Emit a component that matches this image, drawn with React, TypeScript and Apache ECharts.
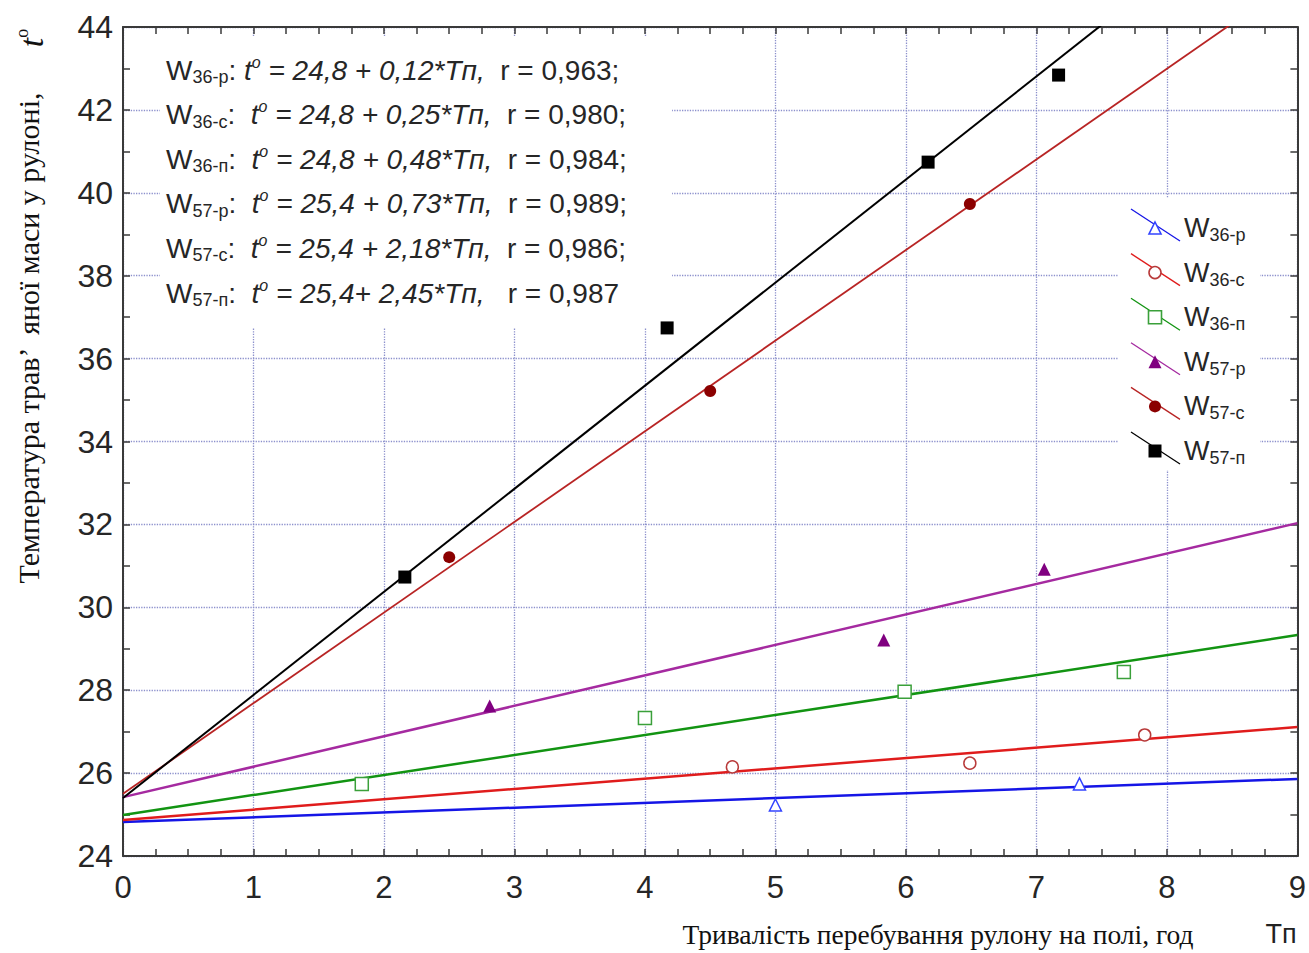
import React, { useEffect, useRef } from 'react';
import * as echarts from 'echarts';

// ---------- data ----------
const seriesSubs = ['36-р', '36-с', '36-п', '57-р', '57-с', '57-п'];

const pts36r = [[5.0, 25.23], [7.33, 25.74]];
const pts36c = [[4.67, 26.15], [6.49, 26.24], [7.83, 26.92]];
const pts36n = [[1.83, 25.74], [4.0, 27.33], [5.99, 27.96], [7.67, 28.44]];
const pts57r = [[2.81, 27.62], [5.83, 29.21], [7.06, 30.92]];
const pts57c = [[2.5, 31.21], [4.5, 35.22], [6.49, 39.73]];
const pts57n = [[2.16, 30.73], [4.17, 36.74], [6.17, 40.74], [7.17, 42.84]];

// fitted lines: values at fitX
const fitX = [0, 9];
const fit36r = [24.82, 25.86];
const fit36c = [24.87, 27.11];
const fit36n = [24.99, 29.33];
const fit57r = [25.42, 32.03];
const fit57c = [25.5, 45.18];
const fit57n = [25.4, 47.78];

const eqIntercepts = ['24,8', '24,8', '24,8', '25,4', '25,4', '25,4'];
const eqSlopes = ['0,12', '0,25', '0,48', '0,73', '2,18', '2,45'];
const eqR = ['0,963;', '0,980;', '0,984;', '0,989;', '0,986;', '0,987'];

const xMin = 0, xMax = 9, xStep = 1;
const yMin = 24, yMax = 44, yStep = 2;

// ---------- styles ----------
const styles = [
  { line: '#1515e6', lw: 2.5, symbol: 'triangle', size: 12, fill: '#ffffff', stroke: '#3344ff' },
  { line: '#e01c1c', lw: 2.5, symbol: 'circle', size: 12, fill: '#ffffff', stroke: '#b83a3a' },
  { line: '#129412', lw: 2.5, symbol: 'rect', size: 13, fill: '#ffffff', stroke: '#3aa03a' },
  { line: '#a52aa0', lw: 2.5, symbol: 'triangle', size: 13, fill: '#800080', stroke: '#800080' },
  { line: '#b82424', lw: 1.8, symbol: 'circle', size: 12, fill: '#8b0000', stroke: '#8b0000' },
  { line: '#000000', lw: 2, symbol: 'rect', size: 13, fill: '#000000', stroke: '#000000' },
];

const points = [pts36r, pts36c, pts36n, pts57r, pts57c, pts57n];
const fits = [fit36r, fit36c, fit36n, fit57r, fit57c, fit57n];

const TXT = '#262626';
const SANS = '"Liberation Sans", Arial, sans-serif';
const SERIF = '"Liberation Serif", "Times New Roman", serif';

function makeRich(fs: number, sub: number) {
  return {
    w: { fontSize: fs, fontFamily: SANS, fill: TXT, lineHeight: 32 },
    s: { fontSize: sub, fontFamily: SANS, fill: TXT, lineHeight: 8, verticalAlign: 'bottom' },
    c: { fontSize: fs, fontFamily: SANS, fill: TXT, lineHeight: 32 },
    i: { fontSize: fs, fontFamily: SANS, fontStyle: 'italic', fill: TXT, lineHeight: 32 },
    o: { fontSize: 16, fontFamily: SANS, fontStyle: 'italic', fill: TXT, lineHeight: 16, verticalAlign: 'top' },
    n: { fontSize: fs, fontFamily: SANS, fill: TXT, lineHeight: 32 },
  };
}

function buildOption() {
  const series: any[] = [];
  points.forEach((pts, i) => {
    const st = styles[i];
    series.push({
      name: 'W' + seriesSubs[i] + ' fit',
      type: 'line',
      data: fitX.map((x, j) => [x, fits[i][j]]),
      showSymbol: false,
      symbol: 'none',
      clip: true,
      silent: true,
      lineStyle: { color: st.line, width: st.lw },
      z: 2,
    });
    series.push({
      name: 'W' + seriesSubs[i],
      type: 'scatter',
      data: pts,
      symbol: st.symbol,
      symbolSize: st.size,
      itemStyle: { color: st.fill, borderColor: st.stroke, borderWidth: st.fill === '#ffffff' ? 1.5 : 0, opacity: 1 },
      z: 4,
    });
  });

  const axisLine = { show: true, onZero: false, lineStyle: { color: '#3a3a3a', width: 2 } };
  const tick = { show: true, inside: true, length: 7, lineStyle: { color: '#3a3a3a', width: 1.5 } };
  const split = { show: true, lineStyle: { type: 'dotted', color: '#8c90cc', width: 1.3 } };

  const eqRich = makeRich(28, 18);
  const legRich = makeRich(27, 18);

  const graphics: any[] = [];
  // equation box
  graphics.push({ type: 'rect', z: 1, shape: { x: 160, y: 36, width: 512, height: 292 }, style: { fill: '#ffffff' }, silent: true });
  // legend box
  graphics.push({ type: 'rect', z: 1, shape: { x: 1118, y: 198, width: 142, height: 272 }, style: { fill: '#ffffff' }, silent: true });

  seriesSubs.forEach((sub, i) => {
    const sep = i === 0 ? ': ' : ':  ';
    const plus = i === 5 ? '+ ' : ' + ';
    const rsp = i === 5 ? '   ' : '  ';
    const text = `{w|W}{s|${sub}}{c|${sep}}{i|t}{o|o}{i| = ${eqIntercepts[i]}${plus}${eqSlopes[i]}*Tп,}{n|${rsp}r = ${eqR[i]}}`;
    graphics.push({
      type: 'text', z: 10, x: 166, y: 70 + i * 44.6, silent: true,
      style: { text, rich: eqRich, align: 'left', verticalAlign: 'middle', textAlign: 'left', textVerticalAlign: 'middle' },
    });
  });

  // legend
  seriesSubs.forEach((sub, i) => {
    const st = styles[i];
    const cy = 228 + i * 44.6;
    const cx = 1155;
    graphics.push({ type: 'line', z: 10, silent: true, shape: { x1: 1131, y1: cy - 19, x2: 1180, y2: cy + 13 }, style: { stroke: st.line, lineWidth: 1.3 } });
    const mStyle = { fill: st.fill, stroke: st.stroke, lineWidth: st.fill === '#ffffff' ? 1.6 : 0 };
    const h = st.size;
    if (st.symbol === 'triangle') {
      graphics.push({ type: 'polygon', z: 11, silent: true, shape: { points: [[cx, cy - h / 2], [cx + h / 2, cy + h / 2], [cx - h / 2, cy + h / 2]] }, style: mStyle });
    } else if (st.symbol === 'circle') {
      graphics.push({ type: 'circle', z: 11, silent: true, shape: { cx, cy, r: h / 2 }, style: mStyle });
    } else {
      graphics.push({ type: 'rect', z: 11, silent: true, shape: { x: cx - h / 2, y: cy - h / 2, width: h, height: h }, style: mStyle });
    }
    graphics.push({
      type: 'text', z: 10, x: 1184, y: cy, silent: true,
      style: { text: `{w|W}{s|${sub}}`, rich: legRich, align: 'left', verticalAlign: 'middle', textAlign: 'left', textVerticalAlign: 'middle' },
    });
  });

  // y axis title
  graphics.push({
    type: 'text', z: 10, x: 28, y: 338, rotation: Math.PI / 2, silent: true,
    style: { text: 'Температура трав’  яної маси у рулоні,', font: `30px ${SERIF}`, fill: '#111', align: 'center', verticalAlign: 'middle', textAlign: 'center', textVerticalAlign: 'middle' },
  });
  graphics.push({
    type: 'text', z: 10, x: 31, y: 38, rotation: Math.PI / 2, silent: true,
    style: {
      text: '{t|t}{o|o}', align: 'center', verticalAlign: 'middle', textAlign: 'center', textVerticalAlign: 'middle',
      rich: {
        t: { fontSize: 34, fontFamily: SERIF, fontStyle: 'italic', fill: '#111', lineHeight: 36 },
        o: { fontSize: 18, fontFamily: SERIF, fill: '#111', lineHeight: 16, verticalAlign: 'top' },
      },
    },
  });
  // x axis title
  graphics.push({
    type: 'text', z: 10, x: 938, y: 934, silent: true,
    style: { text: 'Тривалість перебування рулону на полі, год', font: `27.5px ${SERIF}`, fill: '#111', align: 'center', verticalAlign: 'middle', textAlign: 'center', textVerticalAlign: 'middle' },
  });
  graphics.push({
    type: 'text', z: 10, x: 1281, y: 934, silent: true,
    style: { text: 'Tп', font: `27px ${SANS}`, fill: '#222', align: 'center', verticalAlign: 'middle', textAlign: 'center', textVerticalAlign: 'middle' },
  });

  return {
    animation: false,
    backgroundColor: '#ffffff',
    grid: { left: 123, right: 9, top: 27, bottom: 97, containLabel: false },
    xAxis: [
      {
        type: 'value', min: xMin, max: xMax, interval: xStep, position: 'bottom',
        axisLine, axisTick: tick,
        minorTick: { show: true, splitNumber: 4, length: 7, lineStyle: { color: '#3a3a3a', width: 1.5 } },
        axisLabel: { show: true, fontSize: 31, color: TXT, fontFamily: SANS, margin: 16 },
        splitLine: split,
      },
      {
        type: 'value', min: xMin, max: xMax, interval: xStep, position: 'top',
        axisLine, axisTick: tick,
        minorTick: { show: true, splitNumber: 4, length: 7, lineStyle: { color: '#3a3a3a', width: 1.5 } },
        axisLabel: { show: false }, splitLine: { show: false },
      },
    ],
    yAxis: [
      {
        type: 'value', min: yMin, max: yMax, interval: yStep, position: 'left',
        axisLine, axisTick: tick,
        minorTick: { show: true, splitNumber: 2, length: 7, lineStyle: { color: '#3a3a3a', width: 1.5 } },
        axisLabel: { show: true, fontSize: 32, color: TXT, fontFamily: SANS, margin: 10 },
        splitLine: split,
      },
      {
        type: 'value', min: yMin, max: yMax, interval: yStep, position: 'right',
        axisLine, axisTick: tick,
        minorTick: { show: true, splitNumber: 2, length: 7, lineStyle: { color: '#3a3a3a', width: 1.5 } },
        axisLabel: { show: false }, splitLine: { show: false },
      },
    ],
    series,
    graphic: { elements: graphics },
  };
}

export default function App() {
  const ref = useRef<HTMLDivElement>(null);
  useEffect(() => {
    if (!ref.current) return;
    const chart = echarts.init(ref.current, null, { renderer: 'svg' });
    chart.setOption(buildOption() as any);
    return () => chart.dispose();
  }, []);
  return (
    <div
      ref={ref}
      style={{ position: 'fixed', left: 0, top: 0, width: 1309, height: 953, background: '#fff' }}
    />
  );
}
